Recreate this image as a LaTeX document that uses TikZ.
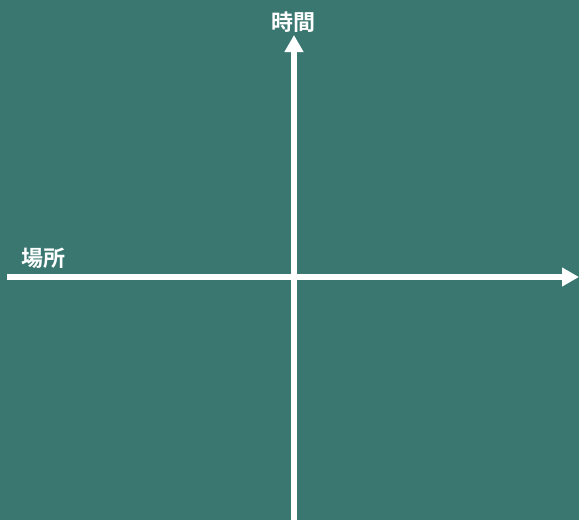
\documentclass[tikz,border=0pt]{standalone}
\usepackage{fontspec}
\newfontfamily\cjk{Noto Sans CJK JP}[BoldFont={* Bold}]
\usetikzlibrary{arrows.meta}
\definecolor{bgteal}{HTML}{397770}
\tikzset{
  axis/.style={draw=white, line width=5.5pt, -{Triangle[length=17pt,width=18pt]}},
  axislabel/.style={text=white, font=\cjk\bfseries\fontsize{22pt}{24pt}\selectfont, inner sep=0pt}
}
\begin{document}
\begin{tikzpicture}[x=1pt,y=-1pt]
  \fill[bgteal] (0,0) rectangle (579,520);
  \useasboundingbox (0,0) rectangle (579,520);
  \coordinate (vstart) at (294,520);
  \coordinate (vend) at (294,35);
  \coordinate (hstart) at (7,277);
  \coordinate (hend) at (579,277);
  \draw[axis] (hstart) -- (hend);
  \draw[axis] (vstart) -- (vend);
  \node[axislabel] (time) at (293,22) {時間};
  \node[axislabel] (place) at (43,258) {場所};
\end{tikzpicture}
\end{document}
